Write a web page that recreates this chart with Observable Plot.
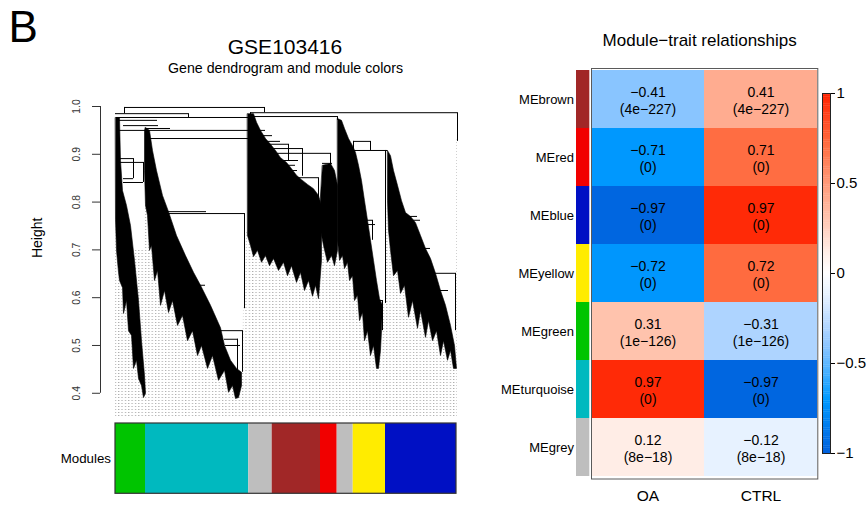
<!DOCTYPE html>
<html><head><meta charset="utf-8">
<script src="https://cdn.jsdelivr.net/npm/d3@7"></script>
<script src="https://cdn.jsdelivr.net/npm/@observablehq/plot@0.6"></script>
<style>
body{margin:0;background:#fff;}
#wrap{position:relative;width:867px;height:510px;background:#fff;font-family:"Liberation Sans",Arial,Helvetica,sans-serif;color:#000;overflow:hidden}
.abs{position:absolute;white-space:nowrap;line-height:1}
svg{overflow:visible;display:block}
</style></head><body><div id="wrap">
<div class="abs" style="left:8.5px;top:4.5px;font-size:44px">B</div>
<div class="abs" style="left:135px;width:300px;text-align:center;top:35.5px;font-size:21px">GSE103416</div>
<div class="abs" style="left:135.5px;width:300px;text-align:center;top:60.5px;font-size:14.2px">Gene dendrogram and module colors</div>
<div class="abs" style="left:549.7px;width:300px;text-align:center;top:31.6px;font-size:17px">Module−trait relationships</div>
</div>
<script>
// ---------------- data ----------------
// module colour bar (leaf-order positions)
const moduleNames = ["green","turquoise","grey","brown","red","grey","yellow","blue"];
const moduleStart = [0, 30, 133.3, 156.7, 205, 221.7, 237.7, 270];
const moduleEnd   = [30, 133.3, 156.7, 205, 221.7, 237.7, 270, 341];

// module–trait table
const traits = ["OA","CTRL"];
const meModules = ["brown","red","blue","yellow","green","turquoise","grey"];
const corOA   = [-0.41,-0.71,-0.97,-0.72, 0.31, 0.97, 0.12];
const corCTRL = [ 0.41, 0.71, 0.97, 0.72,-0.31,-0.97,-0.12];
const pValue  = ["4e-227","0","0","0","1e-126","0","8e-18"];
const legendTicks = [-1,-0.5,0,0.5,1];
const heatStops = [-1,-0.7,-0.4,-0.3,-0.12,0,0.12,0.3,0.4,0.7,1];
const heatColors = ["#0060dc","#009aff","#8ec6ff","#b2d6ff","#e7f2ff","#ffffff","#ffede6","#ffc5b0","#ffae93","#ff7044","#ff2200"];

// dendrogram (leaf position, merge height)
const heightTicks = [0.4,0.5,0.6,0.7,0.8,0.9,1.0];
const greenBranch = [[0,.977],[4,.977],[5,.887],[7,.824],[11,.793],[15,.751],[19,.678],[23,.594],[26,.510],[29,.437],[30,.400],[28,.391],[26,.416],[23,.431],[21,.469],[18,.452],[16,.521],[13,.531],[11,.594],[8,.567],[7,.621],[4,.636],[3,.653],[1,.699],[0,.762]];
const turquoiseBranch = [[30,.956],[34,.950],[37,.908],[41,.866],[47,.814],[53,.780],[61,.730],[70,.688],[78,.653],[85,.626],[95,.584],[105,.537],[109,.500],[115,.469],[121,.452],[126,.444],[126,.416],[123,.391],[120,.389],[117,.416],[113,.402],[109,.448],[103,.427],[97,.479],[92,.452],[86,.500],[82,.479],[77,.531],[72,.510],[67,.563],[62,.542],[57,.594],[53,.569],[49,.615],[45,.584],[42,.657],[39,.636],[36,.709],[34,.699],[32,.772],[30,.793],[29,.866],[29,.950]];
const greyBrownBranch = [[132,.985],[138,.985],[141,.967],[145,.950],[150,.933],[155,.921],[160,.908],[165,.893],[171,.883],[176,.870],[181,.856],[186,.847],[192,.837],[198,.828],[203,.814],[206,.793],[206,.678],[203,.598],[200,.626],[197,.603],[193,.636],[189,.615],[185,.653],[181,.632],[176,.667],[172,.646],[168,.674],[163,.657],[158,.682],[154,.667],[150,.688],[146,.674],[142,.699],[138,.686],[135,.709],[132,.730]];
const redBranch = [[207,.877],[215,.881],[219,.866],[222,.835],[222,.699],[219,.667],[216,.688],[212,.674],[208,.709],[205,.741],[205,.814]];
const yellowBranch = [[222,.975],[226,.971],[229,.954],[233,.933],[237,.918],[240,.904],[243,.877],[246,.845],[249,.803],[252,.762],[255,.720],[258,.678],[261,.636],[264,.598],[267,.584],[266,.531],[265,.490],[263,.452],[261,.452],[258,.500],[255,.479],[252,.531],[249,.510],[247,.569],[244,.552],[242,.605],[239,.594],[237,.646],[234,.636],[232,.674],[229,.661],[227,.688],[224,.678],[222,.720]];
const blueBranch = [[272,.908],[275,.897],[278,.866],[282,.835],[286,.803],[290,.778],[295,.770],[300,.757],[305,.730],[310,.703],[315,.682],[320,.651],[325,.615],[330,.584],[335,.542],[339,.500],[341,.452],[338,.452],[335,.490],[332,.469],[328,.510],[325,.479],[321,.531],[317,.510],[313,.552],[310,.517],[305,.573],[302,.536],[297,.594],[293,.559],[289,.626],[285,.609],[282,.657],[278,.646],[275,.699],[273,.741],[272,.803]];
// horizontal merges [leftLeaf, rightLeaf, height]
const mergeBars = [[9,149,.998],[0,73,.985],[1,135,.977],[2,42,.971],[8,43,.960],[30,55,.954],[2,133,.950],[32,133,.933],[135,342,.987],[137,222,.979],
 [2,18,.891],[2,28,.883],[8,18,.849],[8,28,.841],
 [52,129,.776],[52,91,.780],[81,90,.626],[106,127,.531],[109,123,.513],[110,125,.500],
 [143,150,.950],[147,157,.939],[150,165,.927],[152,173,.921],[155,187,.912],[162,215,.902],[163,183,.887],[165,180,.877],[172,182,.866],[177,203,.851],[207,217,.881],
 [238,255,.927],[238,272,.908],[248,257,.762],[250,260,.753],[260,267,.594],
 [295,302,.770],[297,305,.762],[307,315,.703],[320,340,.651],[325,333,.615]];
// vertical stems [leaf, topHeight, bottomHeight]
const stems = [[9,.998,.985],[149,.998,.987],[342,.987,.927],[135,.987,.979],[222,.979,.971],[73,.985,.977],
 [28,.883,.841],[18,.891,.849],[129,.776,.577],[127,.531,.444],[122,.513,.427],
 [215,.902,.877],[187,.912,.854],[173,.921,.887],[203,.851,.803],
 [255,.927,.908],[238,.927,.908],[270,.908,.588],[257,.762,.720],[267,.594,.531],[340,.651,.531],[133,.950,.933]];
// lowest tips of the tree (bottom outline of the leaves)
const leafTips = [[0,.76],[1,.70],[3,.65],[4,.63],[7,.62],[8,.56],[11,.59],[13,.53],[14,.70],[29,.70],
 [29.5,.80],[30,.80],[32,.78],[34,.70],[36,.71],[39,.64],[42,.66],[45,.59],[49,.62],[53,.57],[57,.60],[62,.55],[67,.57],[72,.52],[77,.54],[82,.49],[86,.51],[92,.46],[97,.49],[103,.43],[109,.45],[113,.41],[117,.42],[120,.39],[123,.39],[126,.42],[127.5,.45],[128,.58],[130,.58],[131,.74],
 [132,.74],[135,.71],[138,.69],[142,.70],[146,.68],[150,.69],[154,.67],[158,.69],[163,.66],[168,.68],[172,.65],[176,.67],[181,.64],[185,.66],[189,.62],[193,.64],[197,.61],[200,.63],[203,.60],
 [205,.70],[208,.71],[212,.68],[216,.69],[219,.67],[222,.70],[224,.68],[227,.69],[229,.66],[232,.68],[234,.64],[237,.65],[239,.60],[242,.61],[244,.56],[247,.57],[249,.51],[252,.53],[255,.48],[258,.50],[261,.45],[263,.45],[265,.49],[266,.53],[267,.58],[270,.59],
 [272,.80],[273,.74],[275,.70],[278,.65],[282,.66],[285,.61],[289,.63],[293,.56],[297,.60],[302,.54],[305,.58],[310,.52],[313,.56],[317,.51],[321,.54],[325,.48],[328,.51],[332,.47],[335,.49],[338,.46],[340,.46],[340.5,.93],[342,.93]];

// ---------------- styling / scales ----------------
const FONT = '"Liberation Sans", Arial, Helvetica, sans-serif';
const moduleColor = {green:"#00c400", turquoise:"#00b9bf", grey:"#bebebe", brown:"#a12727", red:"#f10000", yellow:"#ffec00", blue:"#0010c4"};
const LEFT_PAD = -15, LEAF_SPAN = 342, HEIGHT_FLOOR = 0.347;
const heatColor = {type: "linear", domain: heatStops, range: heatColors, interpolate: "rgb"};
const baseStyle = {fontFamily: FONT, background: "transparent", overflow: "visible", color: "#000"};

const wrap = document.getElementById("wrap");
function place(svg, left, top, w) {
  const d = document.createElement("div");
  d.style.cssText = `position:absolute;left:${left}px;top:${top}px;width:${w}px;`;
  d.appendChild(svg); wrap.appendChild(d);
}

// ---------------- dendrogram ----------------
const branchRows = [];
[["green", greenBranch], ["turquoise", turquoiseBranch], ["greyBrown", greyBrownBranch], ["red", redBranch], ["yellow", yellowBranch], ["blue", blueBranch]]
  .forEach(([name, pts]) => pts.forEach(([leaf, h]) => branchRows.push({name, leaf, h})));

const dendro = Plot.plot({
  width: 470, height: 335, marginLeft: 100, marginRight: 13, marginTop: 16, marginBottom: 6.9,
  x: {domain: [LEFT_PAD, LEAF_SPAN], axis: null},
  y: {domain: [HEIGHT_FLOOR, 1]},
  style: baseStyle,
  marks: [
    Plot.areaY(leafTips, {x: d => d[0], y1: () => HEIGHT_FLOOR, y2: d => d[1], fill: "url(#leafDots)"}),
    Plot.line(branchRows, {x: "leaf", y: "h", z: "name", curve: "linear-closed", fill: "#000", stroke: "#000", strokeWidth: 0.6}),
    Plot.ruleY(mergeBars, {x1: d => d[0], x2: d => d[1], y: d => d[2], stroke: "#000", strokeWidth: 1}),
    Plot.ruleX(stems, {x: d => d[0], y1: d => d[1], y2: d => d[2], stroke: "#000", strokeWidth: 1}),
    Plot.ruleX([LEFT_PAD], {y1: heightTicks[0], y2: heightTicks[heightTicks.length - 1], stroke: "#333"}),
    Plot.axisY(heightTicks, {anchor: "left", tickSize: 8, tickPadding: 15.5, tickRotate: -90, textAnchor: "middle", lineAnchor: "middle", fontSize: 10.3, tickFormat: d3.format(".1f"), color: "#333", label: null}),
    Plot.text(["Height"], {frameAnchor: "left", rotate: -90, dx: -63, dy: -4.5, fontSize: 14})
  ]
});
const defs = d3.select(dendro).insert("defs", ":first-child");
const pat = defs.append("pattern").attr("id", "leafDots").attr("patternUnits", "userSpaceOnUse").attr("width", 3.35).attr("height", 3);
pat.append("rect").attr("x", 1).attr("y", 1).attr("width", 1).attr("height", 1).attr("fill", "#999");
place(dendro, 0, 90, 470);

// ---------------- module colour bar ----------------
const modules = moduleNames.map((m, i) => ({m, x1: moduleStart[i], x2: moduleEnd[i]}));
const bar = Plot.plot({
  width: 470, height: 78, marginLeft: 115, marginRight: 13, marginTop: 3, marginBottom: 4.7,
  x: {domain: [0, LEAF_SPAN], axis: null},
  color: {type: "identity"},
  style: baseStyle,
  marks: [
    Plot.rect(modules, {x1: "x1", x2: "x2", fill: d => moduleColor[d.m]}),
    Plot.rect([modules], {x1: ms => ms[0].x1, x2: ms => ms[ms.length - 1].x2, fill: "none", stroke: "#333", strokeWidth: 1.2}),
    Plot.text(["Modules"], {frameAnchor: "left", textAnchor: "end", lineAnchor: "middle", dx: -4.5, fontSize: 13.3})
  ]
});
place(bar, 0, 420, 470);

// ---------------- module strip + row labels ----------------
const strip = Plot.plot({
  width: 110, height: 411, marginLeft: 96, marginRight: 0.7, marginTop: 0, marginBottom: 0.4,
  x: {axis: null},
  y: {domain: meModules, padding: 0, axis: null},
  color: {type: "identity"},
  style: baseStyle,
  marks: [
    Plot.cell(meModules, {y: d => d, fill: d => moduleColor[d]}),
    Plot.text(meModules, {y: d => d, text: d => "ME" + d, frameAnchor: "left", textAnchor: "end", dx: -2.5, fontSize: 13})
  ]
});
place(strip, 480, 68, 110);

// ---------------- heatmap ----------------
const cells = meModules.flatMap((m, i) => [
  {trait: "OA", m, r: corOA[i], p: pValue[i]},
  {trait: "CTRL", m, r: corCTRL[i], p: pValue[i]}
]);
const fmtR = d3.format(".2f");
const heat = Plot.plot({
  width: 232, height: 446, marginLeft: 2, marginRight: 3.7, marginTop: 1, marginBottom: 34.5,
  x: {domain: traits, padding: 0, axis: null},
  y: {domain: meModules, padding: 0, axis: null},
  color: heatColor,
  style: baseStyle,
  marks: [
    Plot.cell(cells, {x: "trait", y: "m", fill: "r"}),
    Plot.frame({stroke: "#5a5a5a", strokeWidth: 1}),
    Plot.text(cells, {x: "trait", y: "m", text: d => `${fmtR(d.r)}\n(${d.p.replace("-", "−")})`, fontSize: 14, lineHeight: 1.2, dy: 1}),
    Plot.text(traits, {x: d => d, frameAnchor: "bottom", lineAnchor: "middle", dy: 17.5, fontSize: 15.5})
  ]
});
place(heat, 589, 67, 232);

// ---------------- colour legend ----------------
const ramp = d3.range(-1, 1, 0.01);
const legend = Plot.plot({
  width: 52, height: 380, marginLeft: 7, marginRight: 37, marginTop: 8, marginBottom: 12,
  x: {axis: null},
  y: {domain: [-1, 1]},
  color: heatColor,
  style: baseStyle,
  marks: [
    Plot.rect(ramp, {y1: d => d, y2: d => Math.min(1, d + 0.012), fill: d => d + 0.005}),
    Plot.frame({stroke: "#222", strokeWidth: 1}),
    Plot.axisY(legendTicks, {anchor: "right", tickSize: 4, tickPadding: 2, tickFormat: d3.format(""), fontSize: 15, label: null})
  ]
});
place(legend, 815, 85, 52);
</script>
</body></html>
